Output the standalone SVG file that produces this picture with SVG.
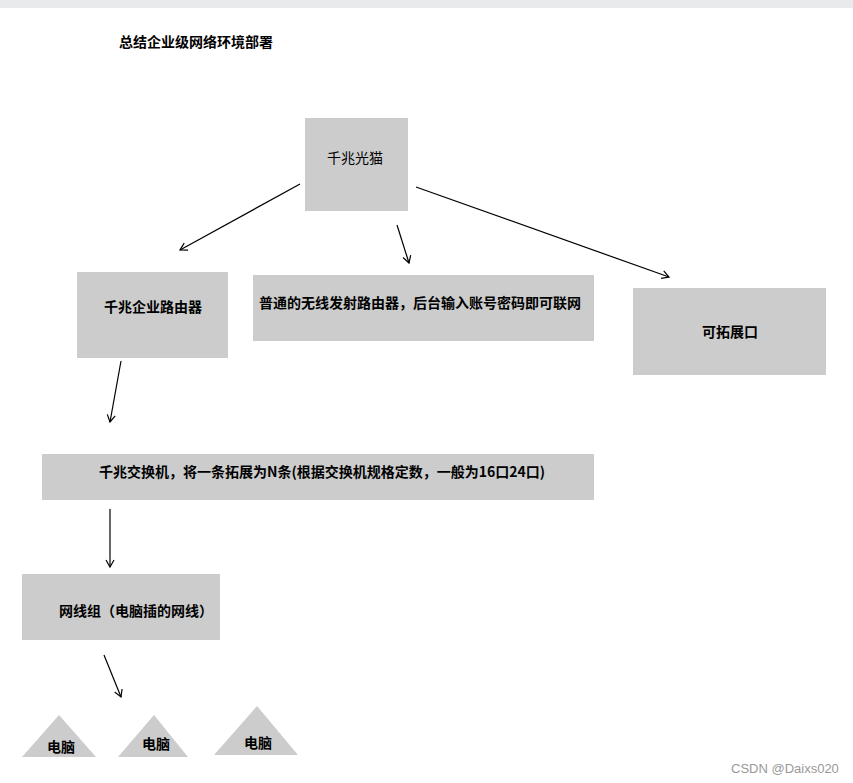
<svg xmlns="http://www.w3.org/2000/svg" width="853" height="783" viewBox="0 0 853 783">
<style>
text{font-family:"Noto Sans CJK SC","Noto Sans",sans-serif;font-size:14px;fill:#000}
.b{font-weight:bold}
.box{fill:#cccccc}
.c line{stroke:#000;stroke-width:1.2;fill:none;marker-end:url(#ah)}
</style>
<defs>
<marker id="ah" markerWidth="10" markerHeight="10" refX="8" refY="5" orient="auto" markerUnits="userSpaceOnUse">
<path d="M1,1 L8,5 L1,9" fill="none" stroke="#000" stroke-width="1.2"/>
</marker>
</defs>
<rect x="0" y="0" width="853" height="8" fill="#e9eaeb"/>
<text class="b" x="119" y="47">总结企业级网络环境部署</text>
<g id="modem"><rect class="box" x="305" y="118" width="103" height="93"/><text x="355" y="163" text-anchor="middle">千兆光猫</text></g>
<g id="router"><rect class="box" x="77" y="272" width="151" height="86"/><text class="b" x="153" y="312" text-anchor="middle">千兆企业路由器</text></g>
<g id="wifi"><rect class="box" x="253" y="275" width="341" height="66"/><text class="b" x="259" y="308">普通的无线发射路由器，后台输入账号密码即可联网</text></g>
<g id="ext"><rect class="box" x="633" y="288" width="193" height="87"/><text class="b" x="730" y="337" text-anchor="middle">可拓展口</text></g>
<g id="switch"><rect class="box" x="42" y="454" width="552" height="46"/><text class="b" x="322" y="477" text-anchor="middle">千兆交换机，将一条拓展为N条(根据交换机规格定数，一般为16口24口)</text></g>
<g id="cable"><rect class="box" x="22" y="574" width="198" height="66"/><text class="b" x="59" y="616">网线组（电脑插的网线）</text></g>
<g id="pc1"><polygon class="box" points="59,715 96,757 22,757"/><text class="b" x="61" y="752" text-anchor="middle">电脑</text></g>
<g id="pc2"><polygon class="box" points="154,715 188,757 118,757"/><text class="b" x="156" y="749" text-anchor="middle">电脑</text></g>
<g id="pc3"><polygon class="box" points="257,706 298,755 214,755"/><text class="b" x="258" y="748" text-anchor="middle">电脑</text></g>
<g class="c" id="connectors">
<line x1="300" y1="184" x2="180" y2="250"/>
<line x1="397" y1="225" x2="409" y2="263"/>
<line x1="416" y1="187" x2="669" y2="277"/>
<line x1="121" y1="361" x2="110" y2="422"/>
<line x1="110" y1="509" x2="110" y2="567"/>
<line x1="104" y1="655" x2="121" y2="697"/>
</g>
<text x="731" y="773" style="font-family:'Liberation Sans',sans-serif;font-size:13px;fill:#999">CSDN @Daixs020</text>
</svg>
